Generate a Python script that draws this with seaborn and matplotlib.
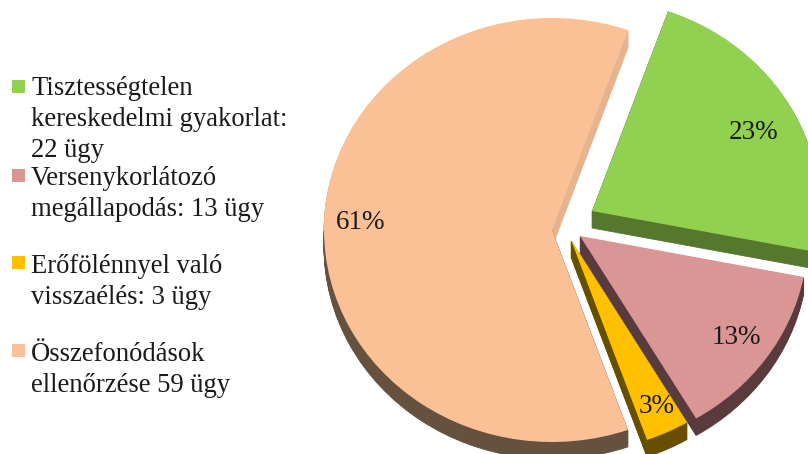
import matplotlib
matplotlib.use("Agg")
import matplotlib.pyplot as plt
from matplotlib.patches import Rectangle
import seaborn as sns

# chart data
case_counts = [22, 13, 3, 59]
legend_labels = [
    "Tisztességtelen\nkereskedelmi gyakorlat:\n22 ügy",
    "Versenykorlátozó\nmegállapodás: 13 ügy",
    "Erőfölénnyel való\nvisszaélés: 3 ügy",
    "Összefonódások\nellenőrzése 59 ügy",
]
top_colors = ["#92D050", "#D99694", "#FFC000", "#F9C195"]
side_colors = ["#55772E", "#5A3B3D", "#665000", "#E5B38E"]
rim_color = "#66503E"

# layout in pixels of the 808x454 image
W, H = 808, 454
CX, CY = 552, 230       # apex of the big slice
RX, RY = 228, 212       # squashed pie, seen from above
DEPTH = 17
slice_dx = [40, 28, 19, 0]
slice_dy = [-19, 6, 10, 0]
label_dx = [-3, 2, 6, -2]
label_dy = [9, 0, 7, -7]
legend_top = [76, 166, 254, 342]
square_bottom = [93, 182, 269, 357]
draw_order = [3, 2, 1, 0]
BIG = 3

sns.set_theme(style="white")
plt.rcParams["font.family"] = ["Liberation Serif", "DejaVu Serif"]

fig = plt.figure(figsize=(W / 100, H / 100), dpi=100)
ax = fig.add_axes([0, 0, 1, 1])


def slice_center(i, drop=0):
    return slice_dx[i] / RX, -(slice_dy[i] + drop) / RY


def draw_layer(colors, drop, base_z, autopct=None):
    result = ax.pie(
        case_counts,
        colors=sns.color_palette(colors),
        startangle=70.5,
        counterclock=False,
        autopct=autopct,
        pctdistance=0.83,
        wedgeprops={"linewidth": 0},
        textprops={"fontsize": 19.5, "color": "#1a1a1a"},
    )
    for i, wedge in enumerate(result[0]):
        wedge.set_center(slice_center(i, drop))
        wedge.set_zorder(base_z + draw_order.index(i) * 100 + (DEPTH - drop))
        if drop > 0:
            # same-colour hairline stops the stacked layers from striping
            wedge.set_edgecolor(wedge.get_facecolor())
            wedge.set_linewidth(0.6)
    return result


# side walls, deepest layer first
for drop in range(DEPTH, 0, -1):
    walls = draw_layer(side_colors, drop, 1)[0]
    rim = draw_layer([rim_color] * 4, drop, 1)[0]
    # upper half of the big slice shows the lit wall, lower half the dark rim
    walls[BIG].set_theta2(-180)
    rim[BIG].set_theta1(-180)
    for i, wedge in enumerate(rim):
        if i != BIG:
            wedge.remove()

wedges, _, pct_texts = draw_layer(top_colors, 0, 1, autopct="%.0f%%")
for i, text in enumerate(pct_texts):
    x, y = text.get_position()
    cx, cy = slice_center(i)
    text.set_position((x + cx + label_dx[i] / RX, y + cy - label_dy[i] / RY))
    text.set_zorder(1000)

ax.set_aspect("auto")
ax.set_xlim(-CX / RX, (W - CX) / RX)
ax.set_ylim(-(H - CY) / RY, CY / RY)
ax.axis("off")

# legend, with the uneven spacing of the original
for label, color, top, bottom in zip(legend_labels, top_colors, legend_top, square_bottom):
    fig.add_artist(Rectangle((12 / W, 1 - bottom / H), 13 / W, 13 / H,
                             transform=fig.transFigure, color=color, lw=0))
    fig.text(31 / W, 1 - top / H, label, fontsize=19.2, va="top", ha="left",
             linespacing=1.31, color="#1a1a1a")

fig.savefig("out.png", dpi=100)
